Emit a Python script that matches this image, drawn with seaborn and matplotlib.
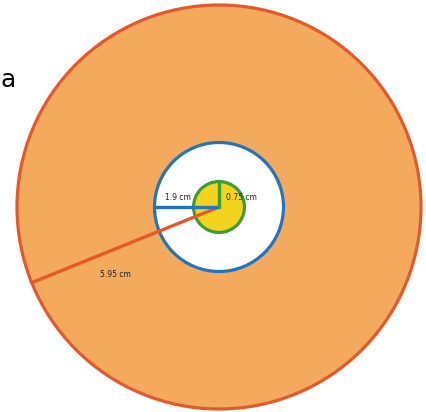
import numpy as np
import matplotlib
matplotlib.use("Agg")
import matplotlib.pyplot as plt
import seaborn as sns

# radii of the three rings (cm) and their labels
radii = [5.95, 1.9, 0.75]
labels = ["5.95 cm", "1.9 cm", "0.75 cm"]
fills = ["#F3AA5C", "#FFFFFF", "#F4D31E"]
edges = ["#E4582B", "#2175BE", "#3A9E35"]
# direction of each radius line in degrees
angles = [202, 180, 90]

sns.set_style("white")
plt.rcParams['font.family'] = ['DejaVu Sans']

fig = plt.figure(figsize=(4.26, 4.12), dpi=100)
ax = fig.add_axes([0, 0, 1, 1])
scale = 202 / radii[0]  # pixels per cm
ax.set_xlim(-219 / scale, (426 - 219) / scale)
ax.set_ylim(-(412 - 207) / scale, 207 / scale)
ax.set_aspect("equal")
ax.axis("off")

for i, (r, fc, ec) in enumerate(zip(radii, fills, edges)):
    ax.add_patch(plt.Circle((0, 0), r, facecolor=fc, edgecolor=ec,
                            linewidth=2.3, zorder=1 + i))

# radius lines
for i, (r, a, ec) in enumerate(zip(radii, angles, edges)):
    t = np.deg2rad(a)
    sns.lineplot(x=[0, r * np.cos(t)], y=[0, r * np.sin(t)], ax=ax,
                 color=ec, linewidth=2.4, sort=False, zorder=5 + i)

# label positions (cm from centre)
ax.text(-3.05, -2.0, labels[0], fontsize=5.5, ha="center", va="center", color="#222222", zorder=10)
ax.text(-1.2, 0.27, labels[1], fontsize=5.5, ha="center", va="center", color="#222222", zorder=10)
ax.text(0.66, 0.27, labels[2], fontsize=5.5, ha="center", va="center", color="#222222", zorder=10)

ax.text(1 / scale - 219 / scale, (207 - 80) / scale, "a", fontsize=18,
        ha="left", va="center", color="black", zorder=10)

fig.savefig("out.png", dpi=100)
